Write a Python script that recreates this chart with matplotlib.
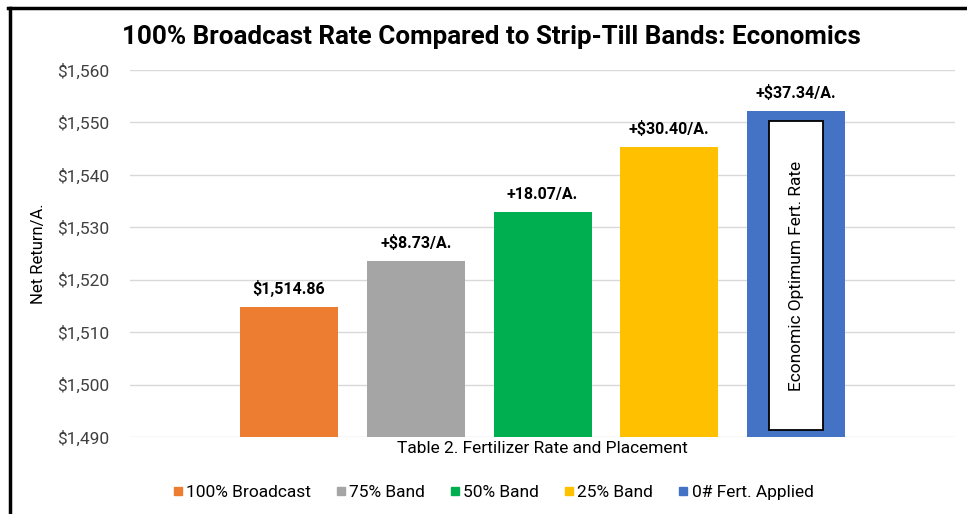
import matplotlib
matplotlib.use("Agg")
import matplotlib.pyplot as plt
from matplotlib.lines import Line2D
from matplotlib.patches import Rectangle

series = ["100% Broadcast", "75% Band", "50% Band", "25% Band", "0# Fert. Applied"]
values = [1514.86, 1523.59, 1532.93, 1545.26, 1552.20]
labels = ["$1,514.86", "+$8.73/A.", "+18.07/A.", "+$30.40/A.", "+$37.34/A."]
colors = ["#ED7D31", "#A5A5A5", "#00B050", "#FFC000", "#4472C4"]
category = "Table 2. Fertilizer Rate and Placement"
yticks = [1490, 1500, 1510, 1520, 1530, 1540, 1550, 1560]

plt.rcParams['font.family'] = ['Roboto', 'DejaVu Sans']

W, H = 967, 514
fig = plt.figure(figsize=(W / 100, H / 100), dpi=100)
ax = fig.add_axes([130 / W, 1 - 437 / H, (955 - 130) / W, (437 - 70) / H])

n = len(series)
spacing = 126.75 / 825
width = 98 / 825
centers = [0.5 + (i - (n - 1) / 2) * spacing for i in range(n)]
base = 1490
for i in range(n):
    ax.bar(centers[i], values[i] - base, bottom=base, width=width,
           color=colors[i], label=series[i], zorder=2)
    ax.text(centers[i], values[i] + 1.9, labels[i], ha='center', va='bottom',
            fontsize=11.5, fontweight='bold', color='#000000', zorder=3)

# white box inside last bar
bx = centers[-1]
ax.add_patch(Rectangle((bx - 27 / 825, 1491.3), 54 / 825, 1550.2 - 1491.3,
                       facecolor='white', edgecolor='black', linewidth=1.3, zorder=3))
ax.text(bx, (1491.3 + 1550.2) / 2, "Economic Optimum Fert. Rate", rotation=90,
        ha='center', va='center', fontsize=12.5, color='#000000', zorder=4)

ax.set_xlim(0, 1)
ax.set_ylim(1490, 1560)
ax.set_yticks(yticks)
ax.set_yticklabels([f"${v:,}" for v in yticks], fontsize=12.5, color='#404040')
ax.set_xticks([0.5])
ax.set_xticklabels([category], fontsize=12.5, color='#000000')
ax.tick_params(axis='y', length=0, pad=15)
ax.tick_params(axis='x', length=0, pad=3)
ax.grid(axis='y', color='#D9D9D9', linewidth=1, zorder=0)
for s in ax.spines.values():
    s.set_visible(False)
ax.set_ylabel("Net Return/A.", fontsize=12, color='#000000', labelpad=8)

fig.text(0.5 * (122 + 860) / W, 1 - 37 / H,
         "100% Broadcast Rate Compared to Strip-Till Bands: Economics",
         ha='center', va='center', fontsize=18.7, fontweight='bold', color='#000000')

handles = [Line2D([0], [0], marker='s', linestyle='', markersize=6,
                  markerfacecolor=c, markeredgecolor=c) for c in colors]
fig.legend(handles, series, loc='center', bbox_to_anchor=(492 / W, 1 - 492 / H),
           ncol=5, frameon=False, fontsize=12.5, handletextpad=0.1,
           columnspacing=1.3, handlelength=0.8)

# frame: left and top black lines
fig.add_artist(Line2D([9.5 / W, 9.5 / W], [0, 1 - 8 / H], color='black', linewidth=2.5,
                      transform=fig.transFigure))
fig.add_artist(Line2D([8 / W, 1], [1 - 8 / H, 1 - 8 / H], color='black', linewidth=2.5,
                      transform=fig.transFigure))

fig.savefig("out.png", dpi=100)
